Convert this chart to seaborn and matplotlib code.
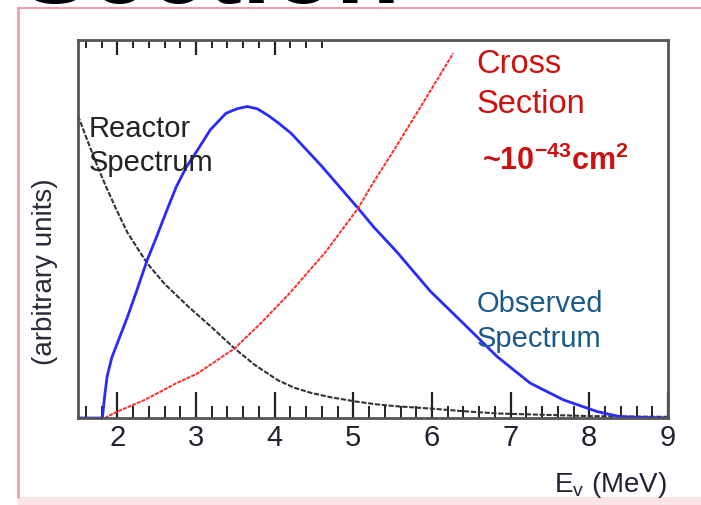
import matplotlib
matplotlib.use("Agg")
import matplotlib.pyplot as plt
import seaborn as sns
import pandas as pd
from matplotlib.lines import Line2D
from matplotlib.patches import Rectangle

# ---- data (arbitrary units) ----
reactor_x = [1.5, 1.6, 1.72, 1.85, 1.98, 2.13, 2.38, 2.6, 2.9, 3.2, 3.49, 3.75, 4.04, 4.25,
             4.47, 4.71, 5.05, 5.3, 5.55, 5.98, 6.4, 6.83, 7.5, 8.0, 9.0]
reactor_y = [0.80, 0.745, 0.68, 0.615, 0.555, 0.49, 0.409, 0.355, 0.295, 0.24, 0.184, 0.14, 0.10,
             0.08, 0.066, 0.055, 0.043, 0.036, 0.031, 0.025, 0.018, 0.012, 0.008, 0.005, 0.003]

observed_x = [1.5, 1.81, 1.84, 1.87, 1.93, 2.0, 2.13, 2.25, 2.38, 2.50, 2.63, 2.75, 2.88, 3.02,
              3.18, 3.38, 3.52, 3.65, 3.78, 3.92, 4.05, 4.21, 4.59, 5.06, 5.26, 5.55, 5.98,
              6.40, 6.83, 7.25, 7.67, 8.10, 8.40, 9.0]
observed_y = [0.0, 0.0, 0.06, 0.11, 0.16, 0.198, 0.268, 0.339, 0.418, 0.48, 0.55, 0.612, 0.665,
              0.709, 0.762, 0.806, 0.818, 0.824, 0.818, 0.80, 0.78, 0.753, 0.668, 0.555, 0.505,
              0.44, 0.335, 0.25, 0.162, 0.092, 0.048, 0.017, 0.003, 0.0]

cross_x = [1.84, 2.0, 2.35, 2.75, 3.02, 3.49, 3.82, 4.19, 4.65, 5.06, 5.26, 5.55, 5.89, 6.27]
cross_y = [0.0, 0.017, 0.048, 0.092, 0.118, 0.184, 0.25, 0.33, 0.44, 0.555, 0.625, 0.72, 0.835,
           0.965]

xticks = [2, 3, 4, 5, 6, 7, 8, 9]

reactor = pd.DataFrame({"E": reactor_x, "v": reactor_y})
observed = pd.DataFrame({"E": observed_x, "v": observed_y})
cross = pd.DataFrame({"E": cross_x, "v": cross_y})

sns.set_theme(style="white")
plt.rcParams["font.family"] = ["Liberation Sans", "DejaVu Sans"]
plt.rcParams["mathtext.fontset"] = "custom"
plt.rcParams["mathtext.rm"] = "Liberation Sans"
plt.rcParams["mathtext.bf"] = "Liberation Sans:bold"

fig = plt.figure(figsize=(7.01, 5.05), dpi=100)
ax = fig.add_axes([78 / 701, 87 / 505, 590 / 701, 378 / 505])

sns.lineplot(data=reactor, x="E", y="v", ax=ax, color="#333333", lw=1.5,
             linestyle=(0, (2.5, 0.8)), sort=False)
sns.lineplot(data=observed, x="E", y="v", ax=ax, color="#2a2aff", lw=2.0, sort=False)
sns.lineplot(data=cross, x="E", y="v", ax=ax, color="#ff2a2a", lw=1.4,
             linestyle=(0, (2, 0.6)), sort=False)

ax.set_xlim(1.5, 9)
ax.set_ylim(0, 1)
ax.set_xticks(xticks)
ax.set_xticks([1.6 + 0.2 * i for i in range(37)], minor=True)
ax.set_yticks([])
ax.tick_params(axis="x", which="major", direction="in", length=19, width=1.6,
               color="#222222", labelsize=21, labelcolor="#222233", pad=4, bottom=True)
ax.tick_params(axis="x", which="minor", direction="in", length=9, width=1.4,
               color="#222222", bottom=True)
for s in ax.spines.values():
    s.set_linewidth(2.0)
    s.set_color("#555555")
ax.set_xlabel("")
ax.set_ylabel("")

# top ticks only on the left part
top = ax.secondary_xaxis("top")
top.set_xticks([2, 3, 4])
top.set_xticks([1.6 + 0.2 * i for i in range(16)], minor=True)
top.tick_params(which="major", direction="in", length=11, width=1.6, color="#222222",
                labeltop=False)
top.tick_params(which="minor", direction="in", length=6, width=1.4, color="#222222")
top.spines["top"].set_visible(False)

# labels
fig.text(667 / 701, 1 - 485 / 505, r"E$_\mathregular{v}$ (MeV)", ha="right", va="center",
         fontsize=20, color="#222233")
fig.text(45 / 701, 1 - 272 / 505, "(arbitrary units)", rotation=90, ha="center", va="center",
         fontsize=20, color="#2a2a3a")

# annotations (one line each, baseline-anchored)
ax.text(1.63, 0.743, "Reactor", fontsize=21, color="#222222", va="baseline", ha="left")
ax.text(1.63, 0.653, "Spectrum", fontsize=21, color="#222222", va="baseline", ha="left")
ax.text(6.57, 0.914, "Cross", fontsize=23.5, color="#cc1111", va="baseline", ha="left")
ax.text(6.57, 0.807, "Section", fontsize=23.5, color="#cc1111", va="baseline", ha="left")
ax.text(6.63, 0.656, r"~10$^{\mathregular{-43}}$cm$^{\mathregular{2}}$", fontsize=22,
        color="#cc1111", fontweight="bold", va="baseline", ha="left")
ax.text(6.57, 0.281, "Observed", fontsize=21, color="#1a5a8a", va="baseline", ha="left")
ax.text(6.57, 0.188, "Spectrum", fontsize=21, color="#1a5a8a", va="baseline", ha="left")

# slide decorations: cut title and pink frame
fig.text(20 / 701, 1 - 3 / 505, "Section", fontsize=76, fontweight="bold", color="black",
         ha="left", va="baseline")
fig.add_artist(Line2D([18 / 701, 18 / 701], [1 - 8 / 505, 8 / 505], transform=fig.transFigure,
                      color="#f0a0a8", lw=2))
fig.add_artist(Line2D([18 / 701, 1], [1 - 8 / 505, 1 - 8 / 505], transform=fig.transFigure,
                      color="#f0a0a8", lw=1.5))
fig.add_artist(Rectangle((18 / 701, 0), 1, 8 / 505, transform=fig.transFigure,
                         facecolor="#fbe4e6", edgecolor="none"))

fig.savefig("out.png", dpi=100)
